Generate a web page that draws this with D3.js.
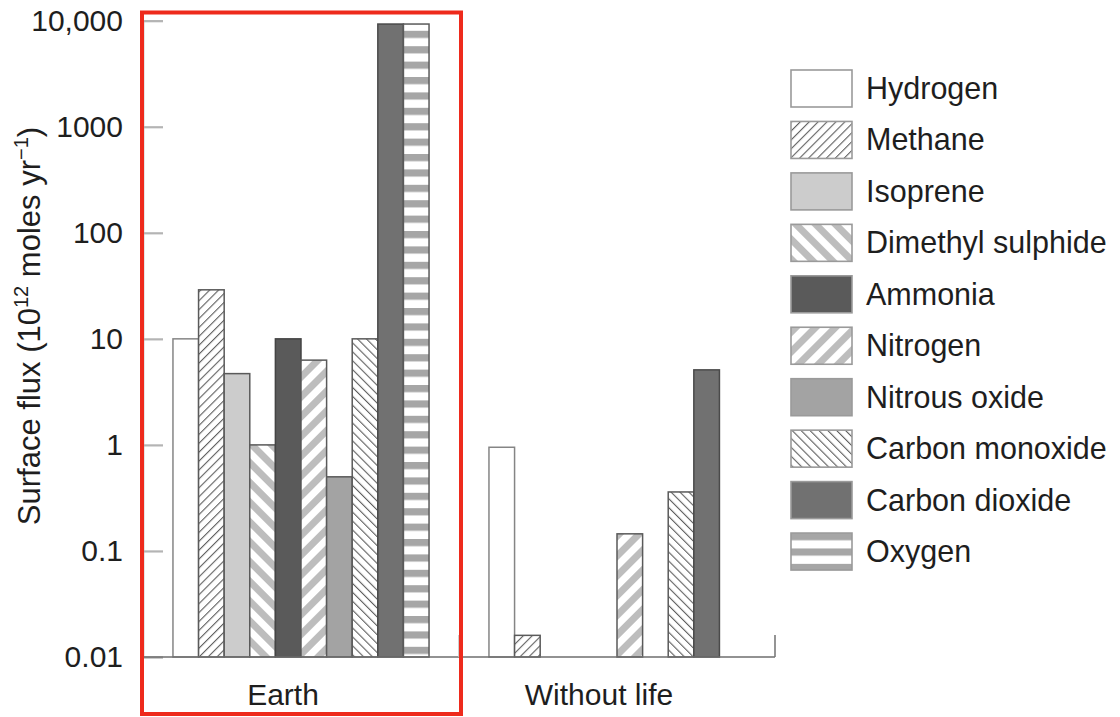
<!DOCTYPE html>
<html>
<head>
<meta charset="utf-8">
<script src="https://cdn.jsdelivr.net/npm/d3@7"></script>
<style>
  html, body { margin: 0; padding: 0; background: #fff; }
  svg { display: block; }
  text { font-family: "Liberation Sans", Arial, Helvetica, sans-serif; fill: #1e1e1e; }
</style>
</head>
<body>
<svg id="chart" width="1120" height="717"></svg>
<script>
// Surface fluxes of gases, in 10^12 moles per year
const groups = ["Earth", "Without life"];
const gases = ["Hydrogen", "Methane", "Isoprene", "Dimethyl sulphide", "Ammonia",
               "Nitrogen", "Nitrous oxide", "Carbon monoxide", "Carbon dioxide", "Oxygen"];
const earthFlux       = [10, 29, 4.7, 1, 10, 6.3, 0.5, 10, 9300, 9300];
const withoutLifeFlux = [0.95, 0.016, null, null, null, 0.145, null, 0.36, 5.1, null];
const tickValues = [0.01, 0.1, 1, 10, 100, 1000, 10000];
const tickLabels = ["0.01", "0.1", "1", "10", "100", "1000", "10,000"];

const fluxByGroup = { "Earth": earthFlux, "Without life": withoutLifeFlux };

const svg = d3.select("#chart");
const baseY = 657, topY = 20.7;
const left = 143, right = 775;

const y = d3.scaleLog().domain([0.01, 10000]).range([baseY, topY]);
const x = d3.scaleBand().domain(groups).range([left, right]).padding(0);
const xi = d3.scaleBand().domain(gases).range([0, x.bandwidth()])
  .paddingInner(0).paddingOuter(1.17);

// ---- fill patterns ----
const defs = svg.append("defs");
function stripes(id, period, width, color, angle) {
  const p = defs.append("pattern")
    .attr("id", id).attr("patternUnits", "userSpaceOnUse")
    .attr("width", period).attr("height", period)
    .attr("patternTransform", `rotate(${angle})`);
  p.append("rect").attr("width", period).attr("height", period).attr("fill", "#fff");
  p.append("rect").attr("x", 0).attr("y", 0).attr("width", width).attr("height", period)
    .attr("fill", color);
}
stripes("methane", 6.3, 1.1, "#5e5e5e", 45);
stripes("co", 6.3, 1.1, "#5e5e5e", -45);
stripes("dms", 14, 7, "#bdbdbd", -45);
stripes("nitrogen", 14, 7, "#bdbdbd", 45);
stripes("oxygen", 15.4, 7.2, "#a6a6a6", 90);

const fills = {
  "Hydrogen": "#ffffff",
  "Methane": "url(#methane)",
  "Isoprene": "#cccccc",
  "Dimethyl sulphide": "url(#dms)",
  "Ammonia": "#5a5a5a",
  "Nitrogen": "url(#nitrogen)",
  "Nitrous oxide": "#a3a3a3",
  "Carbon monoxide": "url(#co)",
  "Carbon dioxide": "#717171",
  "Oxygen": "url(#oxygen)"
};
const strokes = {
  "Hydrogen": "#858585", "Ammonia": "#444", "Carbon dioxide": "#4a4a4a"
};

// ---- bars ----
const bars = [];
groups.forEach(g => fluxByGroup[g].forEach((v, i) => {
  if (v != null) bars.push({ group: g, gas: gases[i], value: v });
}));

svg.append("g").selectAll("rect").data(bars).join("rect")
  .attr("x", d => x(d.group) + xi(d.gas))
  .attr("width", xi.bandwidth())
  .attr("y", d => y(d.value))
  .attr("height", d => y(0.01) - y(d.value))
  .attr("fill", d => fills[d.gas])
  .attr("stroke", d => strokes[d.gas] || "#5a5a5a")
  .attr("stroke-width", 1.5);

// ---- y axis ----
const yAxis = d3.axisLeft(y).tickValues(tickValues)
  .tickFormat((d, i) => tickLabels[i]).tickSize(-20).tickPadding(20);
const ga = svg.append("g").attr("transform", `translate(${left},0)`).call(yAxis);
ga.select(".domain").attr("stroke", "#9a9a9a").attr("stroke-width", 1.5);
ga.selectAll(".tick line").attr("stroke", "#b4b4b4").attr("stroke-width", 2.2);
ga.selectAll(".tick text").attr("font-size", 30).attr("fill", "#1e1e1e")
  .attr("font-family", "'Liberation Sans', Arial, sans-serif");

// ---- baseline and group separators ----
svg.append("line").attr("x1", left).attr("x2", right).attr("y1", baseY).attr("y2", baseY)
  .attr("stroke", "#6e6e6e").attr("stroke-width", 1.6);
svg.append("g").selectAll("line").data(groups.slice(1).map(g => x(g)).concat([right]))
  .join("line")
  .attr("x1", d => d).attr("x2", d => d)
  .attr("y1", baseY).attr("y2", baseY - 22)
  .attr("stroke", (d, i) => i === 0 ? "#c4c4c4" : "#7a7a7a").attr("stroke-width", 1.6);

// ---- group labels ----
svg.append("g").selectAll("text").data(groups).join("text")
  .attr("x", d => x(d) + x.bandwidth() / 2 - 18)
  .attr("y", 705)
  .attr("text-anchor", "middle")
  .attr("font-size", 30)
  .text(d => d);

// ---- y axis title ----
const title = svg.append("text")
  .attr("transform", "translate(40,326) rotate(-90)")
  .attr("text-anchor", "middle")
  .attr("font-size", 31);
title.append("tspan").text("Surface flux (10");
title.append("tspan").attr("font-size", 20).attr("dy", -12).text("12");
title.append("tspan").attr("dy", 12).text(" moles yr");
title.append("tspan").attr("font-size", 20).attr("dy", -12).text("\u22121");
title.append("tspan").attr("dy", 12).text(")");

// ---- legend ----
const legend = svg.append("g").attr("transform", "translate(791,70)");
const item = legend.selectAll("g").data(gases).join("g")
  .attr("transform", (d, i) => `translate(0,${i * 51.45})`);
item.append("rect")
  .attr("width", 61).attr("height", 37)
  .attr("fill", d => fills[d])
  .attr("stroke", "#9a9a9a").attr("stroke-width", 1.6);
item.append("text")
  .attr("x", 75).attr("y", 29)
  .attr("font-size", 30.5)
  .text(d => d);

// ---- highlight box around the Earth group ----
svg.append("rect")
  .attr("x", x("Earth") - 1).attr("y", 12.5)
  .attr("width", x.bandwidth() + 3).attr("height", 701.5)
  .attr("fill", "none")
  .attr("stroke", "#ee2a1c").attr("stroke-width", 4);
</script>
</body>
</html>
